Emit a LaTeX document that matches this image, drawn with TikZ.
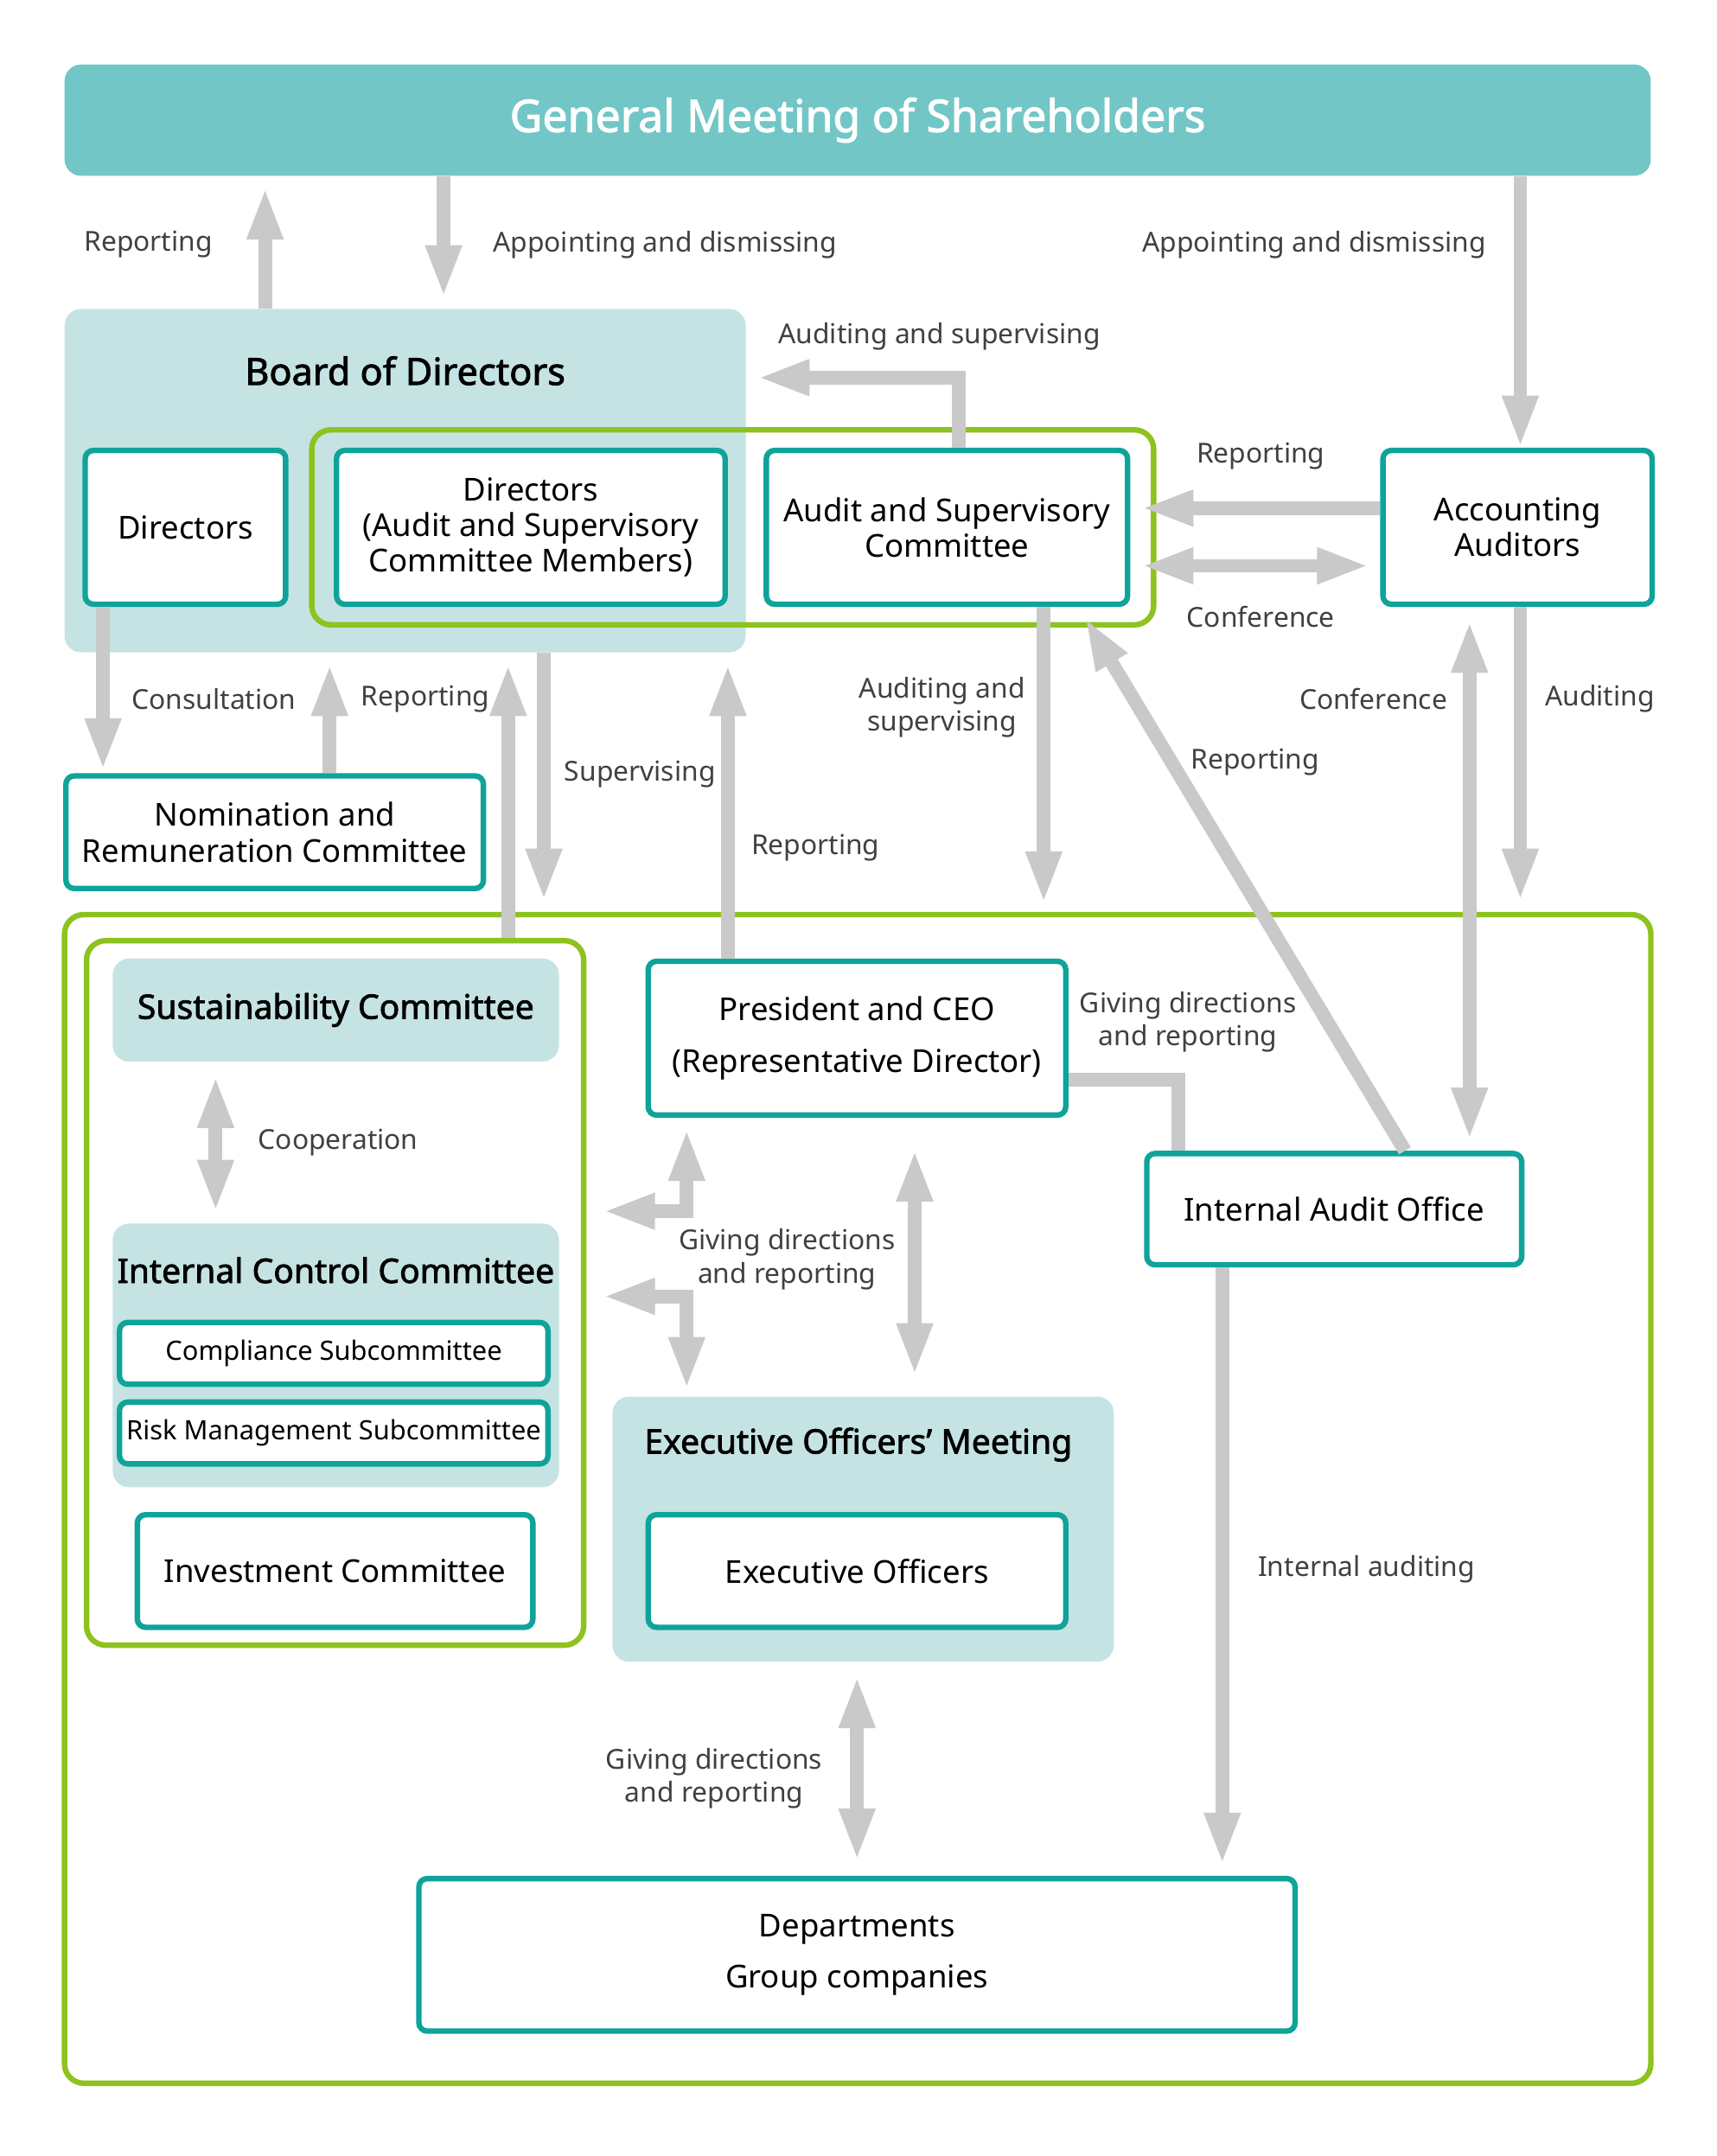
\documentclass[tikz,border=0pt]{standalone}
\usepackage{fontspec}
\IfFontExistsTF{NotoSans-Bold.ttf}
	{\setmainfont{NotoSans}[Extension=.ttf, UprightFont=*-Regular, BoldFont=*-Bold]}
	{\setmainfont{Noto Sans}[BoldFont={Noto Sans}, BoldFeatures={FakeBold=2}]}
\usetikzlibrary{arrows.meta}
\definecolor{xteal}{HTML}{0FA39A}
\definecolor{xtealfill}{HTML}{C5E3E2}
\definecolor{xtop}{HTML}{72C6C6}
\definecolor{xgreen}{HTML}{8DC21F}
\definecolor{xgray}{HTML}{C9C9C9}
\definecolor{xtext}{HTML}{404040}
\tikzset{
	arrow/.style={line width=5pt, draw=xgray, shorten >=4pt, -{Triangle[length=19pt, width=12pt]}},
	dblarrow/.style={line width=5pt, draw=xgray, shorten >=4pt, shorten <=4pt, {Triangle[length=19pt, width=12pt]}-{Triangle[length=19pt, width=12pt]}},
	link/.style={line width=5pt, draw=xgray},
	unit/.style={draw=xteal, line width=2pt, fill=white, rounded corners=3pt, align=center, font=\fontsize{11.5}{13}\selectfont},
	smallunit/.style={unit, inner xsep=1pt, font=\fontsize{9.7}{12}\selectfont},
	panel/.style={fill=xtealfill, rounded corners=6pt},
	greenframe/.style={draw=xgreen, line width=2pt, rounded corners=7pt},
	lbl/.style={text=xtext, align=center, font=\fontsize{10}{12}\selectfont},
	heading/.style={font=\bfseries\fontsize{12.3}{14}\selectfont},
}

\begin{document}
\begin{tikzpicture}[x=0.5pt, y=-0.5pt]
	\useasboundingbox (0,0) rectangle (1250,1570);

	% shareholders
	\node[fill=xtop, rounded corners=6pt, minimum width=577.5pt, minimum height=40.5pt, text=white, font=\bfseries\fontsize{16.3}{18}\selectfont] (gms) at (624.5,87.5) {General Meeting of Shareholders};

	% board of directors
	\node[panel, minimum width=248pt, minimum height=125pt] (board) at (295,350) {};
	\node[heading, font=\bfseries\fontsize{13.6}{15}\selectfont] (boardtitle) at (295,270) {Board of Directors};
	\node[greenframe, minimum width=306.5pt, minimum height=71pt] (ascframe) at (533.5,384) {};
	\node[unit, minimum width=73pt, minimum height=56pt] (dir) at (135,384) {Directors};
	\node[unit, minimum width=141.5pt, minimum height=56pt] (dirasc) at (386.5,384) {Directors\\(Audit and Supervisory\\Committee Members)};
	\node[unit, minimum width=131.5pt, minimum height=56pt] (asc) at (689.5,384) {Audit and Supervisory\\Committee};
	\node[unit, minimum width=98pt, minimum height=56pt] (acc) at (1105,384) {Accounting\\Auditors};
	\node[unit, minimum width=152pt, minimum height=41pt] (nom) at (200,606) {Nomination and\\Remuneration Committee};

	% execution
	\node[greenframe, minimum width=577.5pt, minimum height=425.5pt] (exec) at (624.5,1091.5) {};
	\node[greenframe, minimum width=181pt, minimum height=256.5pt] (comm) at (244,941.5) {};
	\node[panel, heading, minimum width=162.5pt, minimum height=37.5pt] (sus) at (244.5,735.5) {Sustainability Committee};
	\node[panel, minimum width=162.5pt, minimum height=96pt] (icc) at (244.5,987) {};
	\node[heading] (icctitle) at (244.5,925) {Internal Control Committee};
	\node[smallunit, minimum width=156pt, minimum height=22.5pt] (comp) at (243,985.5) {Compliance Subcommittee};
	\node[smallunit, minimum width=156pt, minimum height=22.5pt] (risk) at (243,1043.5) {Risk Management Subcommittee};
	\node[unit, minimum width=144pt, minimum height=41pt] (inv) at (244,1144) {Investment Committee};
	\node[unit, minimum width=152pt, minimum height=56pt, font=\fontsize{11.5}{19}\selectfont] (ceo) at (624,756) {President and CEO\\(Representative Director)};
	\node[unit, minimum width=136.5pt, minimum height=40.5pt] (iao) at (971.5,880.5) {Internal Audit Office};
	\node[panel, minimum width=182.5pt, minimum height=96.5pt] (eom) at (628.5,1113.5) {};
	\node[heading] (eomtitle) at (625,1052) {Executive Officers’ Meeting};
	\node[unit, minimum width=152pt, minimum height=41pt] (eo) at (624,1144) {Executive Officers};
	\node[unit, minimum width=319pt, minimum height=55.5pt, font=\fontsize{11.5}{18.5}\selectfont] (dep) at (624,1423.5) {Departments\\Group companies};

	\coordinate (diagtip) at (790,450);

	% top arrows
	\draw[arrow] (193,0 |- board.north) -- (193,0 |- gms.south);
	\draw[arrow] (323,0 |- gms.south) -- (323,0 |- board.north);
	\draw[arrow, shorten >=0pt] (1107,0 |- gms.south) -- (1107,0 |- acc.north);
	\draw[arrow] (698,0 |- asc.north) |- (board.east |- 0,275);
	\draw[arrow] (acc.west |- 0,370) -- (asc.east |- 0,370);
	\draw[dblarrow] (asc.east |- 0,412) -- (acc.west |- 0,412);

	% middle arrows
	\draw[arrow, shorten >=1pt] (75,0 |- dir.south) -- (75,0 |- nom.north);
	\draw[arrow] (240,0 |- nom.north) -- (240,0 |- board.south);
	\draw[arrow] (370,0 |- comm.north) -- (370,0 |- board.south);
	\draw[arrow] (396,0 |- board.south) -- (396,0 |- exec.north);
	\draw[arrow] (530,0 |- ceo.north) -- (530,0 |- board.south);
	\draw[arrow, shorten >=3pt] (760,0 |- asc.south) -- (760,0 |- exec.north);
	\draw[arrow, shorten >=0pt] (1023,0 |- iao.north) -- (diagtip);
	\draw[dblarrow, shorten <=5pt] (1070,0 |- acc.south) -- (1070,0 |- iao.north);
	\draw[arrow] (1107,0 |- acc.south) -- (1107,0 |- exec.north);

	% lower arrows
	\draw[dblarrow, shorten <=5pt] (157,0 |- sus.south) -- (157,0 |- icc.north);
	\draw[link] (ceo.east |- 0,786) -| (858,0 |- iao.north);
	\draw[dblarrow, shorten >=6pt] (500,0 |- ceo.south) |- (comm.east |- 0,882);
	\draw[dblarrow, shorten <=6pt, shorten >=2.5pt] (comm.east |- 0,944) -| (500,0 |- eom.north);
	\draw[dblarrow, shorten <=11.5pt, shorten >=7.5pt] (666,0 |- ceo.south) -- (666,0 |- eom.north);
	\draw[dblarrow, shorten <=5pt, shorten >=5.5pt] (624,0 |- eom.south) -- (624,0 |- dep.north);
	\draw[arrow] (890,0 |- iao.south) -- (890,0 |- dep.north);

	% labels
	\node[lbl] (lrep1) at (108,178) {Reporting};
	\node[lbl, anchor=west] (lapp1) at (352,178) {Appointing and dismissing};
	\node[lbl, anchor=east] (lapp2) at (1089,178) {Appointing and dismissing};
	\node[lbl] (laudsup1) at (684,245) {Auditing and supervising};
	\node[lbl] (lrep2) at (918,332) {Reporting};
	\node[lbl] (lconf1) at (918,449) {Conference};
	\node[lbl, anchor=west] (lcons) at (89,509) {Consultation};
	\node[lbl, anchor=west] (lrep3) at (256,509) {Reporting};
	\node[lbl, anchor=west] (lsup) at (404,564) {Supervising};
	\node[lbl, anchor=west] (lrep4) at (540,617) {Reporting};
	\node[lbl] (laudsup2) at (686,515) {Auditing and\\supervising};
	\node[lbl] (lrep5) at (914,555) {Reporting};
	\node[lbl] (lconf2) at (1000,509) {Conference};
	\node[lbl, anchor=west] (laud) at (1118,509) {Auditing};
	\node[lbl, anchor=west] (lcoop) at (181,832) {Cooperation};
	\node[lbl] (lgive1) at (865,744) {Giving directions\\and reporting};
	\node[lbl] (lgive2) at (573,917) {Giving directions\\and reporting};
	\node[lbl, anchor=west] (liaud) at (909,1143) {Internal auditing};
	\node[lbl] (lgive3) at (520,1295) {Giving directions\\and reporting};
\end{tikzpicture}
\end{document}
